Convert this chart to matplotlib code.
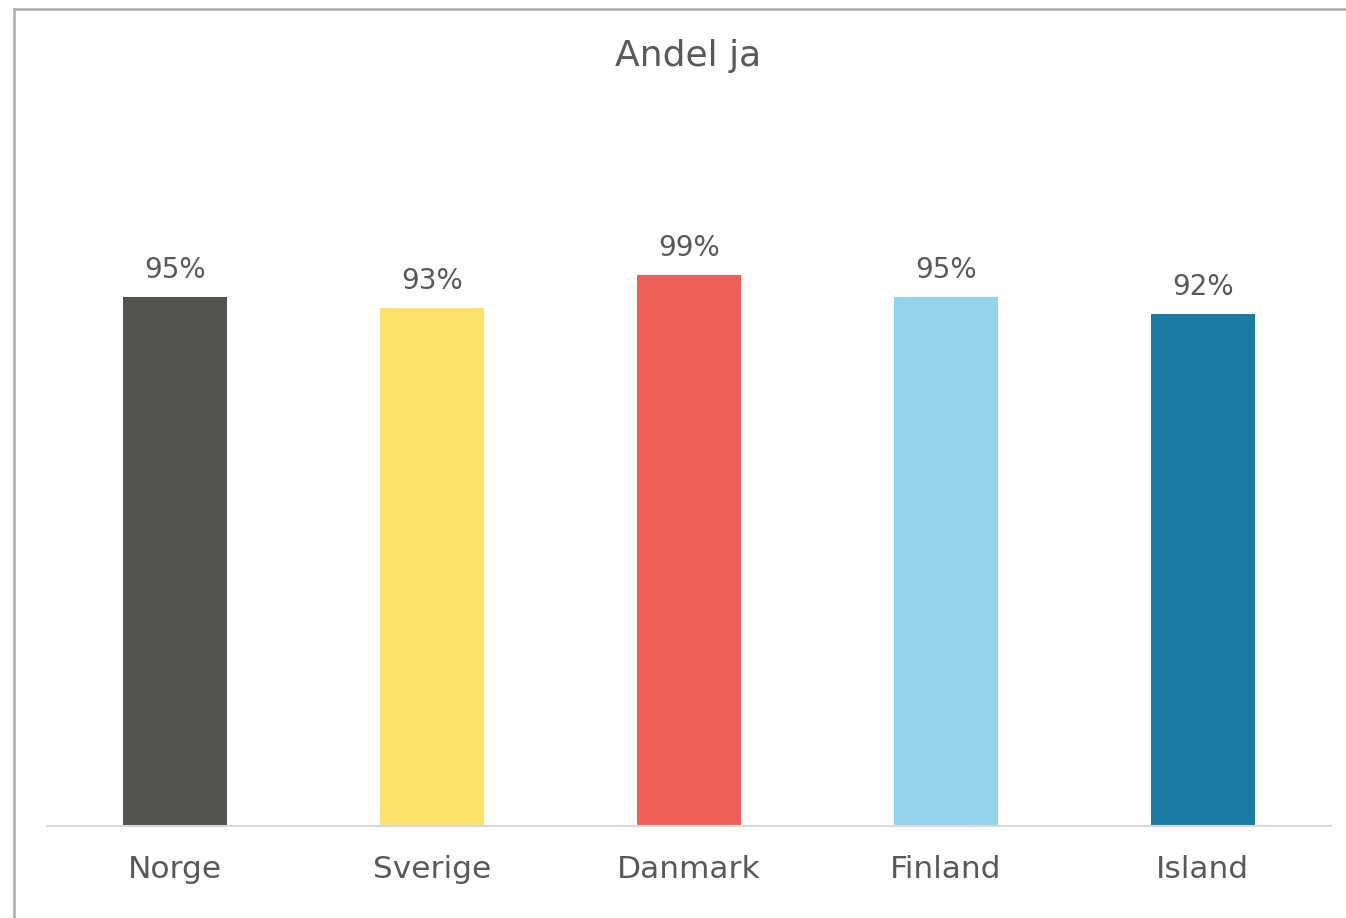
import matplotlib.pyplot as plt
from matplotlib.lines import Line2D

countries = ["Norge", "Sverige", "Danmark", "Finland", "Island"]
share_yes = [0.95, 0.93, 0.99, 0.95, 0.92]
bar_colors = ["#535450", "#FDE16B", "#EF5F5A", "#94D3EC", "#1C7BA3"]

text_color = "#595959"
plt.rcParams["font.family"] = ["DejaVu Sans"]

W, H = 1346, 918
fig = plt.figure(figsize=(W / 100, H / 100), dpi=100)
ax = fig.add_axes([47 / W, 1 - 826 / H, (1331 - 47) / W, (826 - 157.6) / H])

x = range(len(countries))
ax.bar(x, share_yes, width=0.405, color=bar_colors)

for xi, v in zip(x, share_yes):
    ax.annotate(f"{v:.0%}", (xi, v), xytext=(0, 13.5), textcoords="offset points",
                ha="center", va="baseline", fontsize=20, color=text_color)

ax.set_xlim(-0.5, 4.5)
ax.set_ylim(0, 1.2)
ax.set_xticks(list(x))
ax.set_xticklabels(countries, fontsize=22.5, color=text_color)
ax.tick_params(axis="x", length=0, pad=21)
ax.set_yticks([])
for side in ["top", "left", "right"]:
    ax.spines[side].set_visible(False)
ax.spines["bottom"].set_color("#D9D9D9")
ax.spines["bottom"].set_linewidth(1.5)

fig.text(688 / W, 1 - 66 / H, "Andel ja", ha="center", va="baseline",
         fontsize=26, color=text_color)

# chart frame, only top and left edges fall inside the canvas
border = "#ADAAAB"
fig.add_artist(Line2D([13.5 / W, 1], [1 - 8.5 / H, 1 - 8.5 / H], color=border, lw=1.8))
fig.add_artist(Line2D([13.5 / W, 13.5 / W], [0, 1 - 8.5 / H], color=border, lw=1.8))

fig.savefig("out.png", dpi=100)
